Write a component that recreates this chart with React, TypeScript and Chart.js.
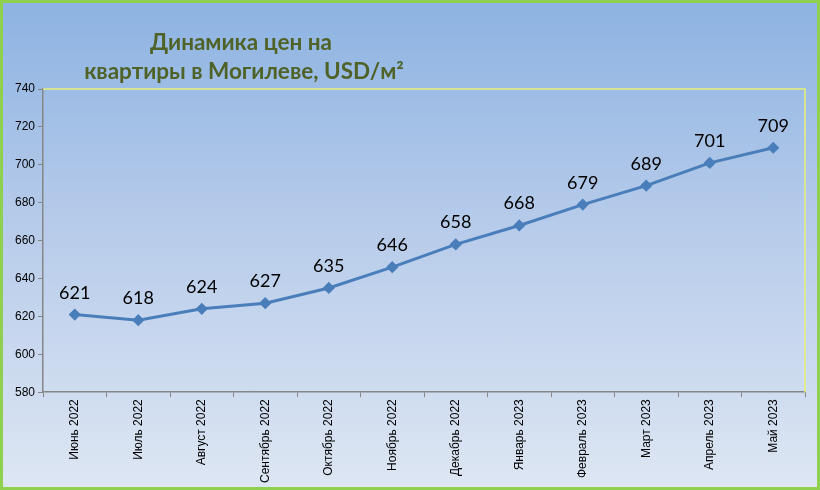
import { useEffect, useRef } from 'react';
import { Chart, registerables } from 'chart.js';

Chart.register(...registerables);

const months = [
  'Июнь 2022',
  'Июль 2022',
  'Август 2022',
  'Сентябрь 2022',
  'Октябрь 2022',
  'Ноябрь 2022',
  'Декабрь 2022',
  'Январь 2023',
  'Февраль 2023',
  'Март 2023',
  'Апрель 2023',
  'Май 2023',
];
const prices = [621, 618, 624, 627, 635, 646, 658, 668, 679, 689, 701, 709];
const titleLines = ['Динамика цен на', 'квартиры в Могилеве, USD/м²'];

// draws the frame (top/right yellow lines), value labels and the title
const decorPlugin = {
  id: 'decor',
  beforeDatasetsDraw(chart: any) {
    const { ctx, chartArea } = chart;
    ctx.save();
    ctx.strokeStyle = '#e6f07a';
    ctx.lineWidth = 1.5;
    ctx.beginPath();
    ctx.moveTo(chartArea.left, chartArea.top);
    ctx.lineTo(chartArea.right, chartArea.top);
    ctx.lineTo(chartArea.right, chartArea.bottom);
    ctx.stroke();
    ctx.restore();
  },
  afterDatasetsDraw(chart: any) {
    const { ctx } = chart;
    const meta = chart.getDatasetMeta(0);
    ctx.save();
    ctx.fillStyle = '#000';
    ctx.font = '18px Lato, "Noto Sans", sans-serif';
    ctx.textAlign = 'center';
    ctx.textBaseline = 'alphabetic';
    meta.data.forEach((pt: any, i: number) => {
      ctx.fillText(String(prices[i]), pt.x, pt.y - 16);
    });
    ctx.font = 'bold 22.5px Lato, "Noto Sans", sans-serif';
    ctx.fillStyle = '#4f6228';
    ctx.fillText(titleLines[0], 238, 47);
    ctx.fillText(titleLines[1], 241, 76);
    ctx.restore();
  },
};

function PriceChart() {
  const canvasRef = useRef<HTMLCanvasElement | null>(null);

  useEffect(() => {
    document.body.style.margin = '0';
    if (!canvasRef.current) return;
    const chart = new Chart(canvasRef.current, {
      type: 'line',
      data: {
        labels: months,
        datasets: [
          {
            data: prices,
            borderColor: '#4a7ebb',
            backgroundColor: '#4a7ebb',
            borderWidth: 3,
            pointStyle: 'rectRot',
            pointRadius: 4,
            tension: 0,
          },
        ],
      },
      options: {
        animation: false,
        responsive: false,
        layout: { padding: { top: 86, right: 12, left: 9, bottom: 2 } },
        plugins: { legend: { display: false }, tooltip: { enabled: false } },
        scales: {
          x: {
            offset: true,
            grid: {
              offset: true,
              drawOnChartArea: false,
              tickLength: 5,
              color: '#868686',
            },
            border: { color: '#868686', width: 1.5 },
            ticks: {
              color: '#000',
              font: { family: '"Liberation Sans", Arial, sans-serif', size: 12 },
              minRotation: 90,
              maxRotation: 90,
              padding: 2,
            },
          },
          y: {
            min: 580,
            max: 740,
            grid: { drawOnChartArea: false, tickLength: 5, color: '#868686' },
            border: { color: '#868686', width: 1.5 },
            ticks: {
              stepSize: 20,
              color: '#000',
              font: { family: '"Liberation Sans", Arial, sans-serif', size: 12 },
              padding: 3,
            },
          },
        },
      },
      plugins: [decorPlugin],
    });
    return () => chart.destroy();
  }, []);

  return (
    <div
      style={{
        width: 820,
        height: 490,
        boxSizing: 'border-box',
        border: '3px solid #8fd14f',
        background: 'linear-gradient(to bottom, #8db3e2 0%, #b6cbea 45%, #dde6f3 100%)',
      }}
    >
      <canvas ref={canvasRef} width={814} height={484} style={{ display: 'block' }}></canvas>
    </div>
  );
}

export default function App() {
  return <PriceChart />;
}
